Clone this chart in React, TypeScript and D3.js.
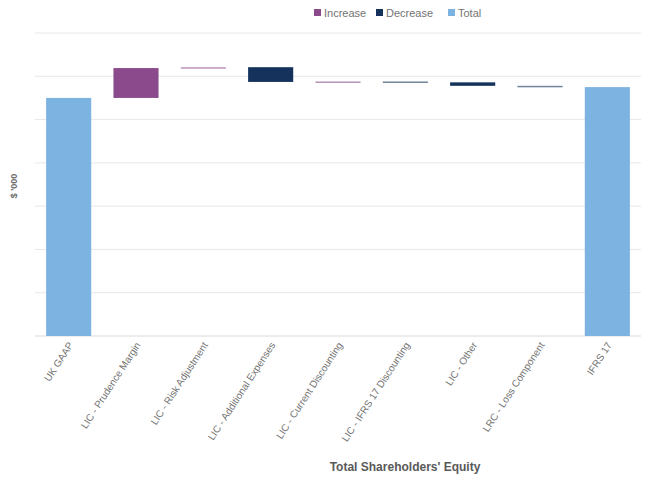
import React from "react";
import * as d3 from "d3";

const categories = [
  "UK GAAP",
  "LIC - Prudence Margin",
  "LIC - Risk Adjustment",
  "LIC - Additional Expenses",
  "LIC - Current Discounting",
  "LIC - IFRS 17 Discounting",
  "LIC - Other",
  "LRC - Loss Component",
  "IFRS 17",
];
// values in $'000; totals are absolute, others are changes
const values = [5500, 690, 20, -340, 10, -20, -80, -30, 5750];
const kinds = ["total", "delta", "delta", "delta", "delta", "delta", "delta", "delta", "total"];
const yTicks = [0, 1000, 2000, 3000, 4000, 5000, 6000, 7000];
const legendItems = ["Increase", "Decrease", "Total"];

const W = 647;
const H = 478;
const colors: Record<string, string> = {
  Increase: "#8B4A8C",
  Decrease: "#14325C",
  Total: "#7DB3E1",
};

export default function App() {
  const x = d3.scaleBand<string>().domain(categories).range([35, 641]).paddingInner(0.33).paddingOuter(0.165);
  const y = d3.scaleLinear().domain([0, 7000]).range([336, 33]);

  let running = 0;
  const bars = categories.map((c, i) => {
    let y0: number, y1: number, kind: string;
    if (kinds[i] === "total") {
      y0 = 0;
      y1 = values[i];
      running = values[i];
      kind = "Total";
    } else {
      y0 = running;
      y1 = running + values[i];
      running = y1;
      kind = values[i] >= 0 ? "Increase" : "Decrease";
    }
    const top = y(Math.max(y0, y1));
    const bot = y(Math.min(y0, y1));
    const h = Math.max(bot - top, 1.5);
    return { c, kind, top, h, thin: bot - top < 1.5 };
  });

  const font = "'Liberation Sans', Arial, sans-serif";
  const legendX = [314, 376, 448];

  return (
    <svg width={W} height={H} style={{ position: "absolute", left: 0, top: 0, background: "#fff" }} fontFamily={font}>
      {yTicks.map((t) => (
        <line key={t} x1={35} x2={641} y1={y(t)} y2={y(t)} stroke={t === 0 ? "#d9d9d9" : "#e8e8e8"} strokeWidth={1} />
      ))}
      {bars.map((b) => (
        <rect key={b.c} x={x(b.c)} y={b.top} width={x.bandwidth()} height={b.h} fill={colors[b.kind]} opacity={b.thin ? 0.6 : 1} />
      ))}
      {categories.map((c) => {
        const cx = (x(c) as number) + x.bandwidth() / 2 + 5;
        return (
          <text key={c} transform={`translate(${cx},345) rotate(-57)`} textAnchor="end" fontSize={10} fill="#737373">
            {c}
          </text>
        );
      })}
      {legendItems.map((l, i) => (
        <g key={l} transform={`translate(${legendX[i]},9)`}>
          <rect x={0} y={0} width={7} height={7} fill={colors[l]} />
          <text x={10} y={7.5} fontSize={11} fill="#737373">
            {l}
          </text>
        </g>
      ))}
      <text transform="translate(17,186) rotate(-90)" textAnchor="middle" fontSize={9} fontWeight="bold" fill="#6b6b6b">
        $ '000
      </text>
      <text x={405} y={471} textAnchor="middle" fontSize={12} fontWeight="bold" fill="#595959">
        Total Shareholders' Equity
      </text>
    </svg>
  );
}
